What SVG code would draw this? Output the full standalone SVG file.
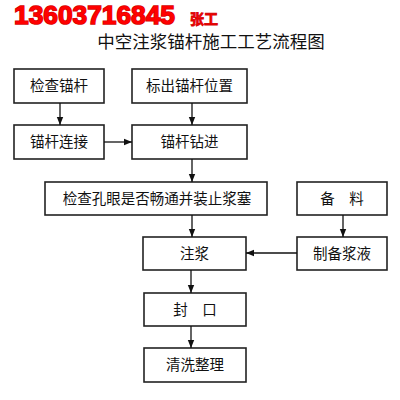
<svg xmlns="http://www.w3.org/2000/svg" width="400" height="400" viewBox="0 0 400 400">
<defs>
<marker id="ah" viewBox="0 0 10 10" refX="10" refY="5" markerWidth="8" markerHeight="8" markerUnits="userSpaceOnUse" orient="auto">
<path d="M0,1 L10,5 L0,9 Z" fill="#111"/>
</marker>
</defs>
<style>
.box{fill:#fff;stroke:#222;stroke-width:1.6}
.t{font-family:"Noto Sans CJK SC","Liberation Sans",sans-serif;font-size:14.5px;fill:#111;text-anchor:middle}
.c{stroke:#111;stroke-width:1.3;fill:none;marker-end:url(#ah)}
</style>
<rect width="400" height="400" fill="#fff"/>
<text x="14" y="24" font-family="Liberation Sans, Arial, sans-serif" font-weight="bold" font-size="26.5" fill="#ff0000" stroke="#d40000" stroke-width="1.5" paint-order="stroke" textLength="161" lengthAdjust="spacingAndGlyphs">13603716845</text>
<text x="190" y="24" font-family="Noto Sans CJK SC, sans-serif" font-weight="bold" font-size="14" fill="#ff0000" stroke="#d40000" stroke-width="0.8">张工</text>
<text x="211" y="48" font-family="Noto Sans CJK SC, sans-serif" font-size="17.5" fill="#111" text-anchor="middle">中空注浆锚杆施工工艺流程图</text>
<g id="n1"><rect class="box" x="14" y="69" width="90" height="34"/><text class="t" x="59" y="91">检查锚杆</text></g>
<g id="n2"><rect class="box" x="132" y="69" width="115" height="34"/><text class="t" x="189.5" y="91">标出锚杆位置</text></g>
<g id="n3"><rect class="box" x="14" y="125" width="90" height="34"/><text class="t" x="59" y="147">锚杆连接</text></g>
<g id="n4"><rect class="box" x="132" y="125" width="115" height="34"/><text class="t" x="189.5" y="147">锚杆钻进</text></g>
<g id="n5"><rect class="box" x="45" y="182" width="222" height="33"/><text class="t" x="157" y="203.5">检查孔眼是否畅通并装止浆塞</text></g>
<g id="n6"><rect class="box" x="297" y="182" width="90" height="33"/><text class="t" x="342" y="203.5">备　料</text></g>
<g id="n7"><rect class="box" x="143" y="237" width="103" height="33"/><text class="t" x="194.5" y="258.5">注浆</text></g>
<g id="n8"><rect class="box" x="297" y="237" width="90" height="33"/><text class="t" x="342" y="258.5">制备浆液</text></g>
<g id="n9"><rect class="box" x="144" y="293" width="102" height="33"/><text class="t" x="195" y="314.5">封　口</text></g>
<g id="n10"><rect class="box" x="144" y="348" width="102" height="34"/><text class="t" x="195" y="370">清洗整理</text></g>
<g id="connectors">
<line class="c" x1="60" y1="103" x2="60" y2="125"/>
<line class="c" x1="192" y1="103" x2="192" y2="125"/>
<line class="c" x1="104" y1="142" x2="132" y2="142"/>
<line class="c" x1="192" y1="159" x2="192" y2="182"/>
<line class="c" x1="192" y1="215" x2="192" y2="237"/>
<line class="c" x1="343" y1="215" x2="343" y2="237"/>
<line class="c" x1="297" y1="253" x2="246" y2="253"/>
<line class="c" x1="191" y1="270" x2="191" y2="293"/>
<line class="c" x1="191" y1="326" x2="191" y2="348"/>
</g>
</svg>
